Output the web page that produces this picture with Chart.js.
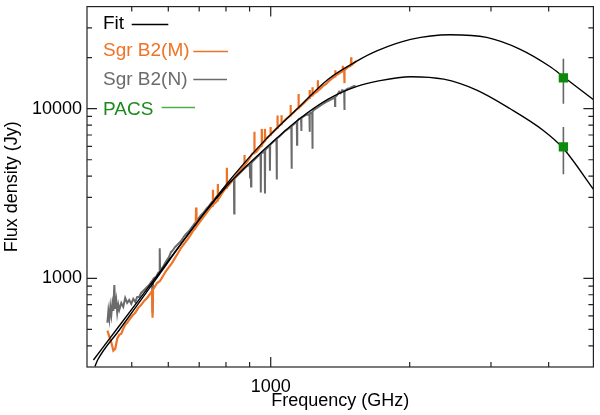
<!DOCTYPE html>
<html>
<head>
<meta charset="utf-8">
<script src="https://cdn.jsdelivr.net/npm/chart.js@4.4.1/dist/chart.umd.min.js"></script>
<style>
  html, body { margin: 0; padding: 0; background: #fff; }
</style>
</head>
<body>
<canvas id="sed" width="600" height="415"></canvas>
<script>
// greybody fits
const fitMFreq = [416, 422, 470, 519, 573, 654, 722, 824, 972, 1146, 1332, 1543, 1703, 2009, 2448, 2936, 3462, 4017, 4305, 5012];
const fitMFlux = [302, 331, 496, 721, 1050, 1730, 2481, 3924, 6529, 10097, 14932, 19219, 21995, 25615, 27290, 26330, 22470, 17795, 15445, 11247];
const fitNFreq = [413, 470, 519, 573, 654, 722, 824, 972, 1146, 1332, 1543, 1703, 2009, 2370, 2794, 3295, 3889, 4305, 5012];
const fitNFlux = [330, 525, 751, 1074, 1736, 2463, 3769, 5804, 8587, 11399, 13586, 14535, 15445, 14932, 12873, 10029, 7471, 5829, 3324];

// SPIRE spectra, Sgr B2(M)
const specMFreq = [442.8, 447.2, 451.6, 456.1, 460.6, 465.1, 469.9, 474.6, 479.3, 484.0,
  488.8, 493.8, 501.2, 508.8, 516.4, 524.0, 531.9, 539.9, 547.9, 553.4,
  554.7, 556.0, 558.9, 567.2, 575.7, 584.3, 593.1, 602.0, 611.0, 620.2,
  629.5, 638.8, 648.4, 658.1, 667.9, 677.9, 688.1, 689.1, 690.5, 698.4,
  708.9, 719.6, 730.3, 741.1, 748.6, 749.7, 750.8, 759.7, 767.2, 768.3,
  769.4, 774.9, 786.5, 794.4, 802.4, 803.5, 804.6, 810.2, 822.4, 834.8,
  847.2, 859.8, 875.8, 877.0, 878.2, 885.8, 899.0, 912.5, 920.4, 921.6,
  922.8, 930.7, 944.7, 955.3, 956.5, 957.7, 963.6, 970.5, 971.7, 972.9,
  978.0, 987.7, 997.8, 999.0, 1000.2, 1007.5, 1022.6, 1033.0, 1034.2, 1035.4,
  1043.0, 1053.6, 1054.9, 1056.2, 1063.8, 1079.7, 1102.8, 1104.1, 1105.4, 1117.9,
  1134.6, 1147.3, 1148.7, 1150.1, 1163.1, 1180.6, 1198.3, 1212.8, 1214.2, 1215.6,
  1222.1, 1229.7, 1231.2, 1232.7, 1246.5, 1263.7, 1265.2, 1266.7, 1277.7, 1297.0,
  1316.3, 1336.0, 1356.0, 1378.2, 1379.8, 1381.4, 1396.9, 1417.9, 1430.4, 1432.0,
  1433.6, 1442.5, 1444.1, 1445.7, 1453.4, 1467.8, 1491.8, 1493.5, 1495.2, 1504.6,
  1519.6, 1530.9];
const specMFlux = [491, 453, 418, 375, 385, 441, 465, 472, 504, 532,
  547, 570, 601, 626, 670, 697, 736, 766, 809, 842,
  585, 860, 877, 938, 964, 1032, 1104, 1165, 1229, 1315,
  1406, 1505, 1588, 1676, 1770, 1893, 1998, 2618, 2020, 2109,
  2226, 2350, 2480, 2618, 2680, 3324, 2720, 2801, 2880, 3595,
  2920, 2997, 3205, 3338, 3420, 4492, 3460, 3523, 3718, 3924,
  4142, 4373, 4620, 5332, 4680, 4806, 5072, 5426, 5470, 7302,
  5510, 5575, 5884, 6050, 7604, 6150, 6294, 6450, 7604, 6520,
  6644, 6825, 7000, 7812, 7080, 7204, 7502, 7700, 9124, 7780,
  7919, 8120, 9150, 8200, 8358, 8703, 9120, 10513, 9180, 9437,
  9828, 10080, 12196, 10130, 10371, 10800, 11247, 11600, 12873, 11700,
  11871, 12000, 13404, 12080, 12362, 12700, 14733, 12800, 13047, 13586,
  13957, 14535, 15034, 15500, 16862, 15600, 15974, 16412, 16600, 17913,
  16650, 16800, 14148, 16850, 17090, 17558, 17950, 20094, 18050, 18282,
  18783, 19038];

// SPIRE spectra, Sgr B2(N)
const specNFreq = [442.8, 445.0, 447.2, 449.4, 451.6, 453.9, 456.1, 458.4, 460.6, 462.9,
  465.1, 467.6, 469.9, 474.6, 479.3, 484.0, 488.8, 493.8, 498.7, 503.7,
  508.8, 513.8, 518.9, 524.0, 529.3, 534.6, 539.9, 545.2, 550.7, 553.3,
  554.7, 556.1, 558.9, 564.4, 570.1, 573.8, 574.9, 576.0, 578.6, 584.3,
  590.2, 596.0, 602.0, 608.0, 614.1, 620.2, 626.4, 632.5, 638.8, 645.2,
  651.6, 658.1, 664.6, 674.6, 684.7, 695.0, 705.4, 715.9, 726.6, 733.8,
  744.8, 756.0, 767.3, 778.8, 790.4, 802.3, 814.2, 822.4, 832.3, 833.5,
  834.7, 838.8, 851.4, 864.2, 877.0, 890.3, 900.9, 902.2, 903.5, 905.4,
  906.7, 908.0, 917.1, 930.7, 944.7, 950.6, 951.8, 953.0, 958.8, 970.5,
  971.7, 972.9, 978.0, 987.7, 994.9, 996.1, 997.3, 1002.5, 1017.6, 1029.0,
  1030.3, 1031.6, 1043.0, 1058.7, 1074.4, 1090.5, 1108.2, 1109.6, 1111.0, 1123.4,
  1139.0, 1140.3, 1141.6, 1151.6, 1163.4, 1164.8, 1166.2, 1174.7, 1192.2, 1212.8,
  1214.2, 1215.6, 1222.1, 1229.7, 1231.2, 1232.7, 1240.4, 1259.0, 1277.7, 1297.0,
  1316.3, 1336.0, 1356.0, 1377.1, 1378.5, 1379.9, 1386.6, 1396.9, 1407.4, 1417.9,
  1428.5, 1442.5, 1444.1, 1445.7, 1453.4, 1467.8, 1482.5, 1497.3, 1512.1, 1527.2];
const specNFlux = [547, 643, 577, 679, 609, 707, 643, 913, 661, 736,
  626, 697, 652, 716, 679, 766, 716, 746, 707, 756,
  726, 777, 777, 820, 842, 865, 889, 913, 951, 965,
  626, 985, 1004, 1018, 1075, 1095, 1505, 1115, 1134, 1165,
  1229, 1280, 1333, 1426, 1465, 1525, 1567, 1610, 1654, 1722,
  1793, 1843, 1893, 1998, 2109, 2226, 2350, 2447, 2582, 2653,
  2801, 2917, 3078, 3205, 3383, 3523, 3668, 3769, 3830, 2414,
  3880, 3924, 4087, 4256, 4432, 4615, 4680, 3924, 4710, 4740,
  3476, 4770, 4937, 5142, 5354, 5420, 3205, 5460, 5500, 5620,
  3162, 5680, 5805, 5964, 6050, 4314, 6120, 6210, 6467, 6620,
  3820, 6680, 6825, 7107, 7401, 7604, 7850, 4432, 7900, 8135,
  8400, 6127, 8450, 8703, 8800, 7401, 8850, 8942, 9187, 9300,
  7302, 9380, 9437, 9500, 5805, 9600, 9828, 10096, 10371, 10655,
  10947, 11172, 11399, 11650, 10371, 11750, 11871, 12196, 12615, 12362,
  12873, 12700, 9828, 12750, 12873, 13131, 13225, 13404, 13586, 13678];

// PACS photometry with errors
const pacsFreq = [4305, 4305];
const pacsFlux = [15200, 5960];
const pacsErr = [4500, 1850];

const xTickValues = [500, 600, 700, 800, 900, 1000, 2000, 3000, 4000];
const xLabelled = [1000];
const yTickValues = [400, 500, 600, 700, 800, 900, 1000, 2000, 3000, 4000, 5000, 6000, 7000, 8000, 9000, 10000, 20000, 30000];
const yLabelled = [1000, 10000];

const legendLabels = ['Fit', 'Sgr B2(M)', 'Sgr B2(N)', 'PACS'];
const legendTextColors = ['#000000', '#ee7326', '#6b6b6b', '#1b8a1b'];
const legendLineColors = ['#000000', '#ee7326', '#6b6b6b', '#4cae4c'];

const ORANGE = '#ee7326';
const GREY = '#6b6b6b';
const GREEN = '#0b8a0b';
const FONT = '"Liberation Sans", Arial, Helvetica, sans-serif';

function toPoints(freqs, fluxes) {
  return freqs.map((f, i) => ({ x: f, y: fluxes[i] }));
}

function lineSet(data, color, width, order, smooth) {
  return {
    data,
    showLine: true,
    borderColor: color,
    backgroundColor: color,
    borderWidth: width,
    pointRadius: 0,
    order,
    cubicInterpolationMode: smooth ? 'monotone' : 'default',
    tension: 0
  };
}

const errorBarSets = pacsFreq.map((f, i) => lineSet(
  [{ x: f, y: pacsFlux[i] - pacsErr[i] }, { x: f, y: pacsFlux[i] + pacsErr[i] }],
  '#666666', 1.6, 1, false
));

// keep the plot box where the original has it
function noPadding(scale) {
  scale.paddingLeft = 0;
  scale.paddingRight = 0;
  scale.paddingTop = 0;
  scale.paddingBottom = 0;
}

// frame with inward ticks on all four sides
const frameTicks = {
  id: 'frameTicks',
  afterDraw(chart) {
    const { ctx, chartArea: a, scales: { x, y } } = chart;
    ctx.save();
    ctx.strokeStyle = '#222';
    ctx.lineWidth = 1.2;
    ctx.strokeRect(a.left, a.top, a.right - a.left, a.bottom - a.top);
    ctx.beginPath();
    xTickValues.forEach((v) => {
      const px = x.getPixelForValue(v);
      const len = xLabelled.includes(v) ? 10 : 5;
      ctx.moveTo(px, a.bottom); ctx.lineTo(px, a.bottom - len);
      ctx.moveTo(px, a.top); ctx.lineTo(px, a.top + len);
    });
    yTickValues.forEach((v) => {
      const py = y.getPixelForValue(v);
      const len = yLabelled.includes(v) ? 10 : 5;
      ctx.moveTo(a.left, py); ctx.lineTo(a.left + len, py);
      ctx.moveTo(a.right, py); ctx.lineTo(a.right - len, py);
    });
    ctx.stroke();
    ctx.restore();
  }
};

const textLegend = {
  id: 'textLegend',
  afterDraw(chart) {
    const { ctx } = chart;
    const baselines = [28.5, 55.5, 85, 114.5];
    const lines = [[131.7, 168.3, 24.5], [193.3, 228, 51.5], [193.3, 227, 79.5], [161.7, 195, 107.5]];
    ctx.save();
    ctx.font = '19px ' + FONT;
    ctx.textBaseline = 'alphabetic';
    ctx.textAlign = 'left';
    legendLabels.forEach((label, i) => {
      ctx.fillStyle = legendTextColors[i];
      ctx.fillText(label, 103, baselines[i]);
      const [x0, x1, ly] = lines[i];
      ctx.strokeStyle = legendLineColors[i];
      ctx.lineWidth = 1.4;
      ctx.beginPath();
      ctx.moveTo(x0, ly);
      ctx.lineTo(x1, ly);
      ctx.stroke();
    });
    ctx.restore();
  }
};

Chart.defaults.font.family = FONT;
Chart.defaults.font.size = 18;
Chart.defaults.color = '#000';

new Chart(document.getElementById('sed'), {
  type: 'scatter',
  data: {
    datasets: [
      {
        data: toPoints(pacsFreq, pacsFlux),
        pointStyle: 'rect',
        pointRadius: 6.6,
        backgroundColor: GREEN,
        borderColor: GREEN,
        borderWidth: 0,
        order: 0
      },
      ...errorBarSets,
      lineSet(toPoints(fitMFreq, fitMFlux), '#000000', 1.4, 2, true),
      lineSet(toPoints(fitNFreq, fitNFlux), '#000000', 1.4, 2, true),
      lineSet(toPoints(specMFreq, specMFlux), ORANGE, 2.2, 3, false),
      lineSet(toPoints(specNFreq, specNFlux), GREY, 2.0, 4, false)
    ]
  },
  options: {
    responsive: false,
    animation: false,
    layout: { padding: { top: 4, right: 2, left: 0, bottom: 0 } },
    plugins: {
      legend: { display: false },
      tooltip: { enabled: false }
    },
    scales: {
      x: {
        type: 'logarithmic',
        min: 400,
        max: 5000,
        afterBuildTicks: (scale) => { scale.ticks = xTickValues.map((v) => ({ value: v })); },
        afterFit: (scale) => { scale.height = 48; noPadding(scale); },
        grid: { display: false, drawTicks: false },
        border: { display: false },
        ticks: {
          autoSkip: false,
          maxRotation: 0,
          padding: 9,
          color: '#000',
          callback: (v) => (xLabelled.includes(v) ? String(v) : '')
        },
        title: { display: true, text: 'Frequency (GHz)', color: '#000', padding: { top: 0, bottom: 3 } }
      },
      y: {
        type: 'logarithmic',
        min: 300,
        max: 40000,
        afterBuildTicks: (scale) => { scale.ticks = yTickValues.map((v) => ({ value: v })); },
        afterFit: (scale) => { scale.width = 87; noPadding(scale); },
        grid: { display: false, drawTicks: false },
        border: { display: false },
        ticks: {
          autoSkip: false,
          padding: 5,
          color: '#000',
          callback: (v) => (yLabelled.includes(v) ? String(v) : '')
        },
        title: { display: true, text: 'Flux density (Jy)', color: '#000', padding: { top: 1.5, bottom: 0 } }
      }
    }
  },
  plugins: [frameTicks, textLegend]
});
</script>
</body>
</html>
